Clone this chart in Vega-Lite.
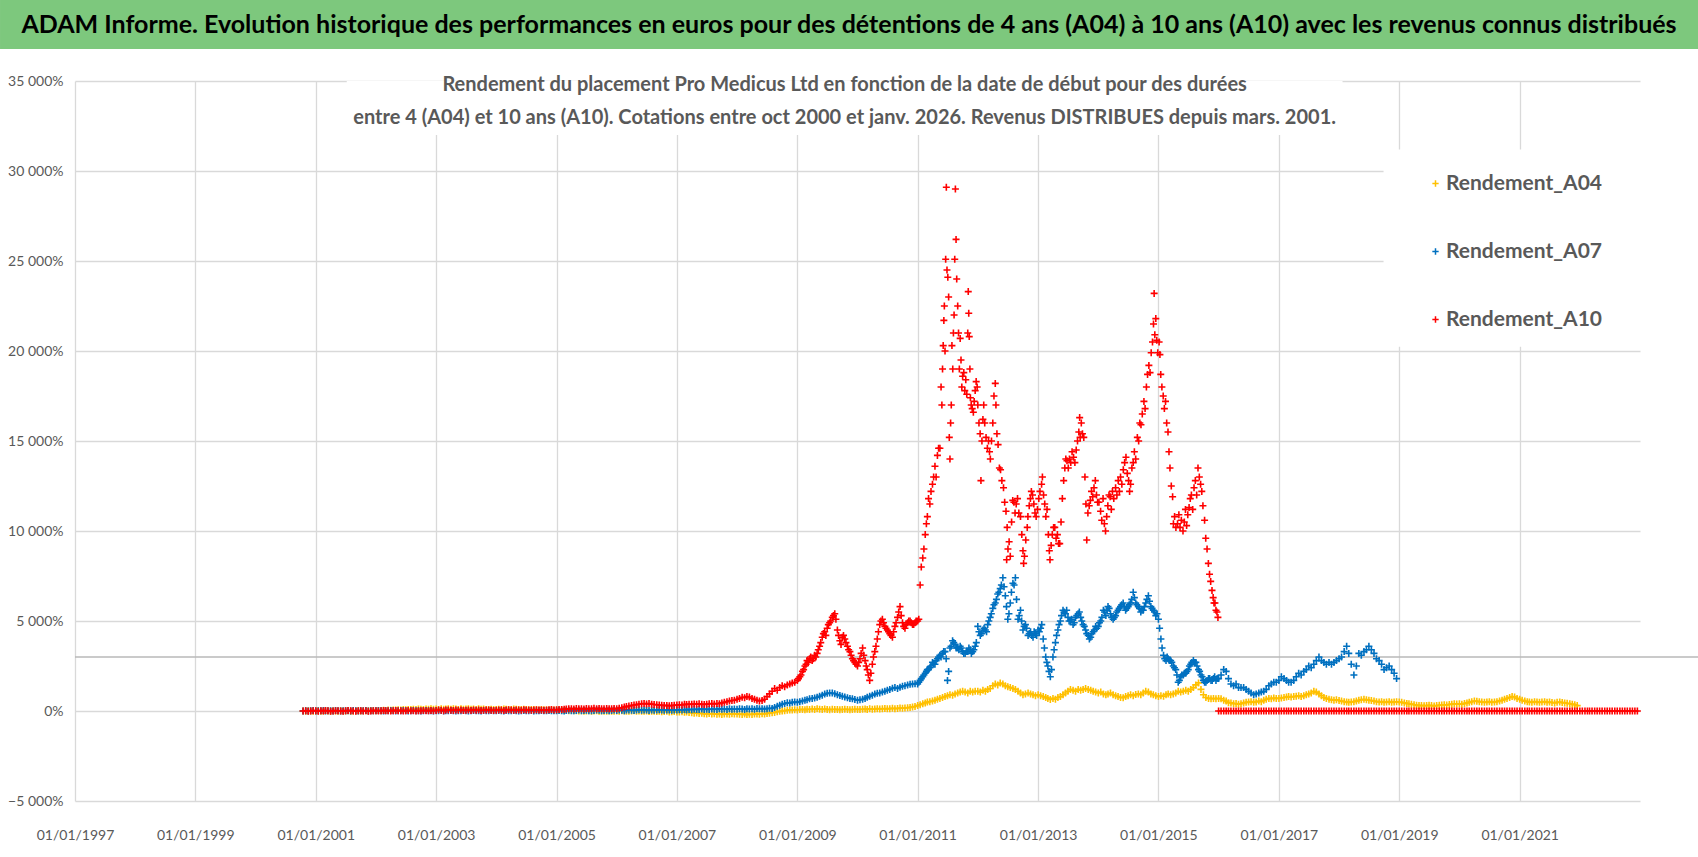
{
"$schema":"https://vega.github.io/schema/vega-lite/v6.json",
"background":"white",
"padding":0,
"spacing":25,
"align":"none",
"config":{"view":{"stroke":null},"font":"Lato","axis":{"labelFont":"Lato","labelFontSize":14,"labelColor":"#595959","gridColor":"#d9d9d9","gridWidth":1.3,"domain":false,"ticks":false,"title":null}},
"datasets":{"rows":[
{"d":"2000-10-16","a":0,"b":0,"c":0},{"d":"2000-11","a":-10,"b":20,"c":10},{"d":"2000-11-16","a":10,"b":0,"c":-10},{"d":"2000-12","a":0,"b":10,"c":0},{"d":"2000-12-16","a":-10,"b":30,"c":20},
{"d":"2001-01","a":0,"b":0,"c":10},{"d":"2001-01-16","a":10,"b":20,"c":-10},{"d":"2001-02","a":-10,"b":10,"c":20},{"d":"2001-02-16","a":0,"b":30,"c":0},{"d":"2001-03","a":10,"b":0,"c":30},{"d":"2001-03-16","a":0,"b":10,"c":10},{"d":"2001-04","a":-10,"b":20,"c":-20},{"d":"2001-04-16","a":10,"b":0,"c":0},{"d":"2001-05","a":0,"b":30,"c":20},{"d":"2001-05-16","a":-10,"b":10,"c":10},{"d":"2001-06","a":10,"b":0,"c":0},{"d":"2001-06-16","a":0,"b":20,"c":-10},{"d":"2001-07","a":0,"b":10,"c":10},{"d":"2001-07-16","a":10,"b":20,"c":30},{"d":"2001-08","a":-10,"b":0,"c":20},{"d":"2001-08-16","a":0,"b":30,"c":0},{"d":"2001-09","a":10,"b":10,"c":-10},{"d":"2001-09-16","a":20,"b":0,"c":10},{"d":"2001-10","a":0,"b":20,"c":20},{"d":"2001-10-16","a":10,"b":10,"c":0},{"d":"2001-11","a":20,"b":30,"c":10},{"d":"2001-11-16","a":10,"b":0,"c":-10},{"d":"2001-12","a":30,"b":10,"c":0},{"d":"2001-12-16","a":20,"b":20,"c":20},
{"d":"2002-01","a":20,"b":10,"c":20},{"d":"2002-01-16","a":30,"b":30,"c":0},{"d":"2002-02","a":10,"b":20,"c":10},{"d":"2002-02-16","a":40,"b":0,"c":30},{"d":"2002-03","a":30,"b":10,"c":20},{"d":"2002-03-16","a":50,"b":20,"c":10},{"d":"2002-04","a":40,"b":30,"c":0},{"d":"2002-04-16","a":60,"b":10,"c":20},{"d":"2002-05","a":50,"b":0,"c":30},{"d":"2002-05-16","a":70,"b":20,"c":10},{"d":"2002-06","a":60,"b":10,"c":20},{"d":"2002-06-16","a":80,"b":30,"c":0},{"d":"2002-07","a":70,"b":20,"c":10},{"d":"2002-07-16","a":90,"b":0,"c":30},{"d":"2002-08","a":80,"b":10,"c":20},{"d":"2002-08-16","a":100,"b":30,"c":10},{"d":"2002-09","a":90,"b":20,"c":0},{"d":"2002-09-16","a":110,"b":10,"c":20},{"d":"2002-10","a":100,"b":0,"c":10},{"d":"2002-10-16","a":90,"b":20,"c":30},{"d":"2002-11","a":110,"b":30,"c":20},{"d":"2002-11-16","a":100,"b":10,"c":10},{"d":"2002-12","a":120,"b":20,"c":30},{"d":"2002-12-16","a":100,"b":0,"c":20},
{"d":"2003-01","a":110,"b":20,"c":30},{"d":"2003-01-16","a":90,"b":10,"c":50},{"d":"2003-02","a":120,"b":30,"c":40},{"d":"2003-02-16","a":100,"b":0,"c":20},{"d":"2003-03","a":110,"b":20,"c":50},{"d":"2003-03-16","a":130,"b":10,"c":60},{"d":"2003-04","a":100,"b":30,"c":40},{"d":"2003-04-16","a":120,"b":20,"c":30},{"d":"2003-05","a":110,"b":0,"c":50},{"d":"2003-05-16","a":90,"b":10,"c":40},{"d":"2003-06","a":120,"b":20,"c":60},{"d":"2003-06-16","a":100,"b":30,"c":30},{"d":"2003-07","a":110,"b":10,"c":40},{"d":"2003-07-16","a":130,"b":0,"c":50},{"d":"2003-08","a":100,"b":20,"c":30},{"d":"2003-08-16","a":110,"b":30,"c":60},{"d":"2003-09","a":90,"b":10,"c":40},{"d":"2003-09-16","a":120,"b":20,"c":50},{"d":"2003-10","a":100,"b":0,"c":30},{"d":"2003-10-16","a":110,"b":30,"c":40},{"d":"2003-11","a":90,"b":20,"c":60},{"d":"2003-11-16","a":80,"b":10,"c":50},{"d":"2003-12","a":100,"b":30,"c":40},{"d":"2003-12-16","a":90,"b":20,"c":30},
{"d":"2004-01","a":80,"b":10,"c":40},{"d":"2004-01-16","a":100,"b":30,"c":60},{"d":"2004-02","a":90,"b":20,"c":50},{"d":"2004-02-16","a":110,"b":0,"c":30},{"d":"2004-03","a":100,"b":30,"c":60},{"d":"2004-03-16","a":80,"b":10,"c":70},{"d":"2004-04","a":90,"b":20,"c":50},{"d":"2004-04-16","a":110,"b":30,"c":40},{"d":"2004-05","a":100,"b":10,"c":60},{"d":"2004-05-16","a":90,"b":0,"c":50},{"d":"2004-06","a":80,"b":20,"c":40},{"d":"2004-06-16","a":100,"b":30,"c":70},{"d":"2004-07","a":90,"b":10,"c":50},{"d":"2004-07-16","a":70,"b":20,"c":60},{"d":"2004-08","a":80,"b":30,"c":40},{"d":"2004-08-16","a":90,"b":0,"c":50},{"d":"2004-09","a":70,"b":20,"c":70},{"d":"2004-09-16","a":60,"b":10,"c":60},{"d":"2004-10","a":80,"b":30,"c":50},{"d":"2004-10-16","a":70,"b":20,"c":40},{"d":"2004-11","a":60,"b":10,"c":60},{"d":"2004-11-16","a":50,"b":30,"c":70},{"d":"2004-12","a":70,"b":20,"c":80},{"d":"2004-12-16","a":60,"b":10,"c":60},
{"d":"2005-01","a":50,"b":10,"c":70},{"d":"2005-01-16","a":40,"b":30,"c":90},{"d":"2005-02","a":60,"b":20,"c":80},{"d":"2005-02-16","a":30,"b":0,"c":100},{"d":"2005-03","a":40,"b":30,"c":110},{"d":"2005-03-16","a":20,"b":40,"c":120},{"d":"2005-04","a":30,"b":20,"c":130},{"d":"2005-04-16","a":10,"b":10,"c":110},{"d":"2005-05","a":20,"b":30,"c":140},{"d":"2005-05-16","a":0,"b":50,"c":120},{"d":"2005-06","a":10,"b":20,"c":130},{"d":"2005-06-16","a":-10,"b":30,"c":110},{"d":"2005-07","a":0,"b":40,"c":140},{"d":"2005-07-16","a":10,"b":20,"c":120},{"d":"2005-08","a":-10,"b":10,"c":130},{"d":"2005-08-16","a":0,"b":30,"c":150},{"d":"2005-09","a":10,"b":50,"c":120},{"d":"2005-09-16","a":-10,"b":40,"c":140},{"d":"2005-10","a":0,"b":20,"c":130},{"d":"2005-10-16","a":-20,"b":30,"c":120},{"d":"2005-11","a":-10,"b":40,"c":140},{"d":"2005-11-16","a":0,"b":20,"c":130},{"d":"2005-12","a":-20,"b":30,"c":120},{"d":"2005-12-16","a":-10,"b":50,"c":140},
{"d":"2006-01","a":0,"b":30,"c":130},{"d":"2006-01-16","a":-10,"b":50,"c":150},{"d":"2006-02","a":10,"b":40,"c":180},{"d":"2006-02-16","a":0,"b":20,"c":220},{"d":"2006-03","a":-20,"b":50,"c":250},{"d":"2006-03-16","a":-10,"b":60,"c":280},{"d":"2006-04","a":0,"b":40,"c":300},{"d":"2006-04-16","a":10,"b":30,"c":330},{"d":"2006-05","a":-10,"b":50,"c":350},{"d":"2006-05-16","a":0,"b":70,"c":380},{"d":"2006-06","a":-20,"b":40,"c":400},{"d":"2006-06-16","a":-10,"b":60,"c":420},{"d":"2006-07","a":0,"b":50,"c":390},{"d":"2006-07-16","a":-30,"b":30,"c":410},{"d":"2006-08","a":-20,"b":60,"c":380},{"d":"2006-08-16","a":-10,"b":40,"c":360},{"d":"2006-09","a":-30,"b":50,"c":350},{"d":"2006-09-16","a":-20,"b":70,"c":330},{"d":"2006-10","a":-40,"b":60,"c":320},{"d":"2006-10-16","a":-30,"b":40,"c":300},{"d":"2006-11","a":-20,"b":50,"c":310},{"d":"2006-11-16","a":-50,"b":60,"c":290},{"d":"2006-12","a":-40,"b":40,"c":300},{"d":"2006-12-16","a":-30,"b":50,"c":320},
{"d":"2007-01","a":-50,"b":50,"c":330},{"d":"2007-01-16","a":-60,"b":70,"c":350},{"d":"2007-02","a":-40,"b":60,"c":340},{"d":"2007-02-16","a":-70,"b":80,"c":370},{"d":"2007-03","a":-60,"b":60,"c":360},{"d":"2007-03-16","a":-80,"b":90,"c":380},{"d":"2007-04","a":-100,"b":70,"c":370},{"d":"2007-04-16","a":-120,"b":100,"c":390},{"d":"2007-05","a":-110,"b":80,"c":380},{"d":"2007-05-16","a":-140,"b":90,"c":400},{"d":"2007-06","a":-130,"b":110,"c":370},{"d":"2007-06-16","a":-150,"b":90,"c":360},{"d":"2007-07","a":-160,"b":100,"c":380},{"d":"2007-07-16","a":-140,"b":80,"c":400},{"d":"2007-08","a":-170,"b":110,"c":410},{"d":"2007-08-16","a":-150,"b":100,"c":390},{"d":"2007-09","a":-180,"b":90,"c":420},{"d":"2007-09-16","a":-160,"b":120,"c":400},{"d":"2007-10","a":-190,"b":100,"c":450},{"d":"2007-10-16","a":-170,"b":110,"c":480},{"d":"2007-11","a":-160,"b":90,"c":520},{"d":"2007-11-16","a":-180,"b":120,"c":560},{"d":"2007-12","a":-150,"b":100,"c":580},{"d":"2007-12-16","a":-170,"b":110,"c":600},
{"d":"2008-01","a":-160,"b":100,"c":650},{"d":"2008-01-16","a":-180,"b":120,"c":700},{"d":"2008-02","a":-190,"b":110,"c":760},{"d":"2008-02-16","a":-170,"b":90,"c":740},{"d":"2008-03","a":-200,"b":130,"c":800},{"d":"2008-03-16","a":-180,"b":110,"c":780},{"d":"2008-04","a":-190,"b":120,"c":700},{"d":"2008-04-16","a":-170,"b":100,"c":650},{"d":"2008-05","a":-160,"b":140,"c":600},{"d":"2008-05-16","a":-180,"b":120,"c":560},{"d":"2008-06","a":-150,"b":130,"c":580},{"d":"2008-06-16","a":-170,"b":110,"c":650},{"d":"2008-07","a":-140,"b":130,"c":800},{"d":"2008-07-16","a":-120,"b":150,"c":950},{"d":"2008-08","a":-100,"b":140,"c":1100},{"d":"2008-08-16","a":-80,"b":200,"c":1250},{"d":"2008-09","a":-40,"b":260,"c":1150},{"d":"2008-09-16","a":-20,"b":320,"c":1300},{"d":"2008-10","a":0,"b":380,"c":1400},{"d":"2008-10-16","a":20,"b":420,"c":1350},{"d":"2008-11","a":40,"b":460,"c":1450},{"d":"2008-11-16","a":60,"b":440,"c":1500},{"d":"2008-12","a":50,"b":480,"c":1550},{"d":"2008-12-16","a":70,"b":500,"c":1600},
{"d":"2009-01","a":60,"b":480,"c":1700},{"d":"2009-01-16","a":80,"b":520,"c":1900},{"d":"2009-02","a":90,"b":560,"c":2200},{"d":"2009-02-16","a":70,"b":600,"c":2500},{"d":"2009-03","a":100,"b":620,"c":2800},{"d":"2009-03-16","a":80,"b":680,"c":2900},{"d":"2009-04","a":110,"b":700,"c":2800},{"d":"2009-04-16","a":90,"b":720,"c":3100},{"d":"2009-05","a":120,"b":760,"c":3200},{"d":"2009-05-16","a":100,"b":820,"c":3600},{"d":"2009-06","a":80,"b":880,"c":4100},{"d":"2009-06-16","a":110,"b":940,"c":4400},{"d":"2009-07","a":90,"b":980,"c":4600},{"d":"2009-07-16","a":70,"b":1000,"c":4900},{"d":"2009-08","a":100,"b":1000,"c":5200},{"d":"2009-08-16","a":80,"b":960,"c":5400},{"d":"2009-09","a":90,"b":900,"c":4500},{"d":"2009-09-16","a":70,"b":860,"c":3900},{"d":"2009-10","a":80,"b":820,"c":4100},{"d":"2009-10-16","a":100,"b":780,"c":4000},{"d":"2009-11","a":90,"b":740,"c":3600},{"d":"2009-11-16","a":70,"b":700,"c":3300},{"d":"2009-12","a":80,"b":680,"c":2900},{"d":"2009-12-16","a":100,"b":640,"c":2700},
{"d":"2010-01","a":90,"b":600,"c":2500},{"d":"2010-01-16","a":80,"b":620,"c":2900},{"d":"2010-02","a":100,"b":650,"c":3500},{"d":"2010-02-16","a":110,"b":700,"c":2800},{"d":"2010-03","a":90,"b":760,"c":2300},{"d":"2010-03-16","a":120,"b":820,"c":1700},{"d":"2010-04","a":100,"b":880,"c":2600},{"d":"2010-04-16","a":110,"b":940,"c":3300},{"d":"2010-05","a":130,"b":980,"c":4000},{"d":"2010-05-16","a":110,"b":1000,"c":4800},{"d":"2010-06","a":120,"b":1050,"c":5100},{"d":"2010-06-16","a":140,"b":1100,"c":4700},{"d":"2010-07","a":120,"b":1150,"c":4500},{"d":"2010-07-16","a":130,"b":1200,"c":4300},{"d":"2010-08","a":150,"b":1260,"c":4100},{"d":"2010-08-16","a":130,"b":1300,"c":4700},{"d":"2010-09","a":140,"b":1250,"c":5200},{"d":"2010-09-16","a":160,"b":1320,"c":5800},{"d":"2010-10","a":150,"b":1380,"c":4900},{"d":"2010-10-16","a":170,"b":1400,"c":4600},{"d":"2010-11","a":180,"b":1450,"c":4900},{"d":"2010-11-16","a":200,"b":1480,"c":5000},{"d":"2010-12","a":220,"b":1500,"c":4800},{"d":"2010-12-16","a":250,"b":1520,"c":4900},
{"d":"2011-01","a":300,"b":1500},{"d":"2011-01-16","a":350,"b":1700},{"d":"2011-02","a":400,"b":1900},{"d":"2011-02-16","a":450,"b":2100},{"d":"2011-03","a":500,"b":2300},{"d":"2011-03-16","a":520,"b":2400},{"d":"2011-04","a":550,"b":2700},{"d":"2011-04-16","a":600,"b":2600},{"d":"2011-05","a":650,"b":2900},{"d":"2011-05-16","a":700,"b":3100},{"d":"2011-06","a":750,"b":3200},{"d":"2011-06-16","a":800,"b":3300},{"d":"2011-07","a":850,"b":1700},{"d":"2011-07-16","a":900,"b":3500},{"d":"2011-08","a":880,"b":3900},{"d":"2011-08-16","a":950,"b":3700},{"d":"2011-09","a":1000,"b":3500},{"d":"2011-09-16","a":1050,"b":3600},{"d":"2011-10","a":1100,"b":3300},{"d":"2011-10-16","a":1050,"b":3200},{"d":"2011-11","a":1000,"b":3300},{"d":"2011-11-16","a":1100,"b":3400},{"d":"2011-12","a":1050,"b":3300},{"d":"2011-12-16","a":1100,"b":3600},
{"d":"2012-01","a":1100,"b":4700},{"d":"2012-01-16","a":1050,"b":4200},{"d":"2012-02","a":1150,"b":4500},{"d":"2012-02-16","a":1100,"b":4500},{"d":"2012-03","a":1200,"b":4800},{"d":"2012-03-16","a":1250,"b":5200},{"d":"2012-04","a":1400,"b":5700},{"d":"2012-04-16","a":1500,"b":6000},{"d":"2012-05","a":1450,"b":6500},{"d":"2012-05-16","a":1550,"b":6800},{"d":"2012-06","a":1500,"b":7400},{"d":"2012-06-16","a":1400,"b":6400},{"d":"2012-07","a":1350,"b":5100},{"d":"2012-07-16","a":1300,"b":6000},{"d":"2012-08","a":1250,"b":7100},{"d":"2012-08-16","a":1200,"b":7400},{"d":"2012-09","a":1100,"b":5100},{"d":"2012-09-16","a":1000,"b":5600},{"d":"2012-10","a":900,"b":4500},{"d":"2012-10-16","a":950,"b":4800},{"d":"2012-11","a":1000,"b":4200},{"d":"2012-11-16","a":950,"b":4400},{"d":"2012-12","a":900,"b":4100},{"d":"2012-12-16","a":850,"b":4300},
{"d":"2013-01","a":900,"b":4500},{"d":"2013-01-16","a":850,"b":4600},{"d":"2013-02","a":800,"b":4000},{"d":"2013-02-16","a":750,"b":3000},{"d":"2013-03","a":700,"b":2500},{"d":"2013-03-16","a":640,"b":1900},{"d":"2013-04","a":700,"b":3000},{"d":"2013-04-16","a":650,"b":3800},{"d":"2013-05","a":750,"b":4500},{"d":"2013-05-16","a":800,"b":5000},{"d":"2013-06","a":900,"b":5600},{"d":"2013-06-16","a":1000,"b":5400},{"d":"2013-07","a":1100,"b":5200},{"d":"2013-07-16","a":1200,"b":5000},{"d":"2013-08","a":1150,"b":4800},{"d":"2013-08-16","a":1100,"b":5200},{"d":"2013-09","a":1200,"b":5400},{"d":"2013-09-16","a":1150,"b":5200},{"d":"2013-10","a":1200,"b":4800},{"d":"2013-10-16","a":1250,"b":4500},{"d":"2013-11","a":1200,"b":4200},{"d":"2013-11-16","a":1150,"b":4100},{"d":"2013-12","a":1100,"b":4400},{"d":"2013-12-16","a":1050,"b":4700},
{"d":"2014-01","a":1000,"b":4700},{"d":"2014-01-16","a":1050,"b":5000},{"d":"2014-02","a":950,"b":5600},{"d":"2014-02-16","a":900,"b":5300},{"d":"2014-03","a":950,"b":5800},{"d":"2014-03-16","a":1000,"b":5400},{"d":"2014-04","a":900,"b":5100},{"d":"2014-04-16","a":850,"b":5300},{"d":"2014-05","a":800,"b":5600},{"d":"2014-05-16","a":750,"b":5800},{"d":"2014-06","a":740,"b":6000},{"d":"2014-06-16","a":800,"b":5600},{"d":"2014-07","a":850,"b":5800},{"d":"2014-07-16","a":900,"b":6000},{"d":"2014-08","a":850,"b":6600},{"d":"2014-08-16","a":920,"b":6000},{"d":"2014-09","a":950,"b":5800},{"d":"2014-09-16","a":900,"b":5500},{"d":"2014-10","a":1000,"b":5600},{"d":"2014-10-16","a":1100,"b":6000},{"d":"2014-11","a":1050,"b":6400},{"d":"2014-11-16","a":950,"b":5800},{"d":"2014-12","a":900,"b":5600},{"d":"2014-12-16","a":850,"b":5300},
{"d":"2015-01","a":800,"b":5100},{"d":"2015-01-16","a":850,"b":4000},{"d":"2015-02","a":820,"b":3100},{"d":"2015-02-16","a":900,"b":2800},{"d":"2015-03","a":950,"b":2900},{"d":"2015-03-16","a":900,"b":2800},{"d":"2015-04","a":950,"b":2500},{"d":"2015-04-16","a":1000,"b":2300},{"d":"2015-05","a":1100,"b":1600},{"d":"2015-05-16","a":1050,"b":1900},{"d":"2015-06","a":1100,"b":2000},{"d":"2015-06-16","a":1150,"b":2100},{"d":"2015-07","a":1100,"b":2300},{"d":"2015-07-16","a":1200,"b":2600},{"d":"2015-08","a":1300,"b":2800},{"d":"2015-08-16","a":1450,"b":2700},{"d":"2015-09","a":1560,"b":2300},{"d":"2015-09-16","a":1200,"b":2000},{"d":"2015-10","a":900,"b":1700},{"d":"2015-10-16","a":750,"b":1600},{"d":"2015-11","a":700,"b":1800},{"d":"2015-11-16","a":680,"b":1700},{"d":"2015-12","a":700,"b":1800},{"d":"2015-12-16","a":680,"b":1700},
{"d":"2016-01","a":700,"b":1800,"c":0},{"d":"2016-01-16","a":680,"b":2000,"c":0},{"d":"2016-02","a":600,"b":2300,"c":0},{"d":"2016-02-16","a":550,"b":2200,"c":0},{"d":"2016-03","a":460,"b":1800,"c":0},{"d":"2016-03-16","a":450,"b":1500,"c":0},{"d":"2016-04","a":400,"b":1400,"c":0},{"d":"2016-04-16","a":420,"b":1500,"c":0},{"d":"2016-05","a":380,"b":1300,"c":0},{"d":"2016-05-16","a":400,"b":1300,"c":0},{"d":"2016-06","a":450,"b":1300,"c":0},{"d":"2016-06-16","a":480,"b":1200,"c":0},{"d":"2016-07","a":500,"b":1100,"c":0},{"d":"2016-07-16","a":520,"b":1000,"c":0},{"d":"2016-08","a":480,"b":900,"c":0},{"d":"2016-08-16","a":500,"b":950,"c":0},{"d":"2016-09","a":550,"b":1000,"c":0},{"d":"2016-09-16","a":520,"b":1050,"c":0},{"d":"2016-10","a":600,"b":1100,"c":0},{"d":"2016-10-16","a":650,"b":1200,"c":0},{"d":"2016-11","a":700,"b":1400,"c":0},{"d":"2016-11-16","a":680,"b":1500,"c":0},{"d":"2016-12","a":720,"b":1600,"c":0},{"d":"2016-12-16","a":700,"b":1600,"c":0},
{"d":"2017-01","a":700,"b":1700,"c":0},{"d":"2017-01-16","a":720,"b":1900,"c":0},{"d":"2017-02","a":750,"b":1800,"c":0},{"d":"2017-02-16","a":780,"b":1700,"c":0},{"d":"2017-03","a":800,"b":1600,"c":0},{"d":"2017-03-16","a":780,"b":1600,"c":0},{"d":"2017-04","a":800,"b":1700,"c":0},{"d":"2017-04-16","a":820,"b":1900,"c":0},{"d":"2017-05","a":850,"b":2100,"c":0},{"d":"2017-05-16","a":800,"b":2000,"c":0},{"d":"2017-06","a":850,"b":2200,"c":0},{"d":"2017-06-16","a":900,"b":2300,"c":0},{"d":"2017-07","a":950,"b":2500,"c":0},{"d":"2017-07-16","a":1000,"b":2400,"c":0},{"d":"2017-08","a":1100,"b":2600,"c":0},{"d":"2017-08-16","a":1050,"b":2800,"c":0},{"d":"2017-09","a":950,"b":3000,"c":0},{"d":"2017-09-16","a":850,"b":2800,"c":0},{"d":"2017-10","a":750,"b":2700,"c":0},{"d":"2017-10-16","a":700,"b":2600,"c":0},{"d":"2017-11","a":650,"b":2700,"c":0},{"d":"2017-11-16","a":620,"b":2600,"c":0},{"d":"2017-12","a":600,"b":2700,"c":0},{"d":"2017-12-16","a":620,"b":2800,"c":0},
{"d":"2018-01","a":580,"b":2900,"c":0},{"d":"2018-01-16","a":550,"b":3000,"c":0},{"d":"2018-02","a":520,"b":3300,"c":0},{"d":"2018-02-16","a":500,"b":3600,"c":0},{"d":"2018-03","a":480,"b":3200,"c":0},{"d":"2018-03-16","a":500,"b":2600,"c":0},{"d":"2018-04","a":520,"b":2000,"c":0},{"d":"2018-04-16","a":550,"b":2500,"c":0},{"d":"2018-05","a":600,"b":3200,"c":0},{"d":"2018-05-16","a":620,"b":3100,"c":0},{"d":"2018-06","a":650,"b":3300,"c":0},{"d":"2018-06-16","a":620,"b":3400,"c":0},{"d":"2018-07","a":600,"b":3600,"c":0},{"d":"2018-07-16","a":580,"b":3400,"c":0},{"d":"2018-08","a":550,"b":3200,"c":0},{"d":"2018-08-16","a":520,"b":2900,"c":0},{"d":"2018-09","a":500,"b":2800,"c":0},{"d":"2018-09-16","a":520,"b":2600,"c":0},{"d":"2018-10","a":480,"b":2300,"c":0},{"d":"2018-10-16","a":500,"b":2400,"c":0},{"d":"2018-11","a":520,"b":2500,"c":0},{"d":"2018-11-16","a":480,"b":2300,"c":0},{"d":"2018-12","a":500,"b":2100,"c":0},{"d":"2018-12-16","a":510,"b":1800,"c":0},
{"d":"2019-01","a":500,"c":0},{"d":"2019-01-16","a":480,"c":0},{"d":"2019-02","a":450,"c":0},{"d":"2019-02-16","a":420,"c":0},{"d":"2019-03","a":400,"c":0},{"d":"2019-03-16","a":380,"c":0},{"d":"2019-04","a":350,"c":0},{"d":"2019-04-16","a":320,"c":0},{"d":"2019-05","a":300,"c":0},{"d":"2019-05-16","a":310,"c":0},{"d":"2019-06","a":290,"c":0},{"d":"2019-06-16","a":300,"c":0},{"d":"2019-07","a":320,"c":0},{"d":"2019-07-16","a":300,"c":0},{"d":"2019-08","a":280,"c":0},{"d":"2019-08-16","a":300,"c":0},{"d":"2019-09","a":320,"c":0},{"d":"2019-09-16","a":330,"c":0},{"d":"2019-10","a":350,"c":0},{"d":"2019-10-16","a":340,"c":0},{"d":"2019-11","a":360,"c":0},{"d":"2019-11-16","a":380,"c":0},{"d":"2019-12","a":400,"c":0},{"d":"2019-12-16","a":390,"c":0},
{"d":"2020-01","a":400,"c":0},{"d":"2020-01-16","a":380,"c":0},{"d":"2020-02","a":420,"c":0},{"d":"2020-02-16","a":450,"c":0},{"d":"2020-03","a":480,"c":0},{"d":"2020-03-16","a":520,"c":0},{"d":"2020-04","a":550,"c":0},{"d":"2020-04-16","a":540,"c":0},{"d":"2020-05","a":520,"c":0},{"d":"2020-05-16","a":500,"c":0},{"d":"2020-06","a":480,"c":0},{"d":"2020-06-16","a":500,"c":0},{"d":"2020-07","a":520,"c":0},{"d":"2020-07-16","a":480,"c":0},{"d":"2020-08","a":500,"c":0},{"d":"2020-08-16","a":520,"c":0},{"d":"2020-09","a":560,"c":0},{"d":"2020-09-16","a":600,"c":0},{"d":"2020-10","a":650,"c":0},{"d":"2020-10-16","a":700,"c":0},{"d":"2020-11","a":750,"c":0},{"d":"2020-11-16","a":800,"c":0},{"d":"2020-12","a":780,"c":0},{"d":"2020-12-16","a":700,"c":0},
{"d":"2021-01","a":650,"c":0},{"d":"2021-01-16","a":600,"c":0},{"d":"2021-02","a":550,"c":0},{"d":"2021-02-16","a":520,"c":0},{"d":"2021-03","a":500,"c":0},{"d":"2021-03-16","a":480,"c":0},{"d":"2021-04","a":520,"c":0},{"d":"2021-04-16","a":500,"c":0},{"d":"2021-05","a":480,"c":0},{"d":"2021-05-16","a":500,"c":0},{"d":"2021-06","a":520,"c":0},{"d":"2021-06-16","a":480,"c":0},{"d":"2021-07","a":500,"c":0},{"d":"2021-07-16","a":470,"c":0},{"d":"2021-08","a":450,"c":0},{"d":"2021-08-16","a":480,"c":0},{"d":"2021-09","a":500,"c":0},{"d":"2021-09-16","a":470,"c":0},{"d":"2021-10","a":450,"c":0},{"d":"2021-10-16","a":430,"c":0},{"d":"2021-11","a":400,"c":0},{"d":"2021-11-16","a":380,"c":0},{"d":"2021-12","a":350,"c":0},{"d":"2021-12-16","a":300,"c":0},
{"d":"2022-01","c":0},{"d":"2022-01-16","c":0},{"d":"2022-02","c":0},{"d":"2022-02-16","c":0},{"d":"2022-03","c":0},{"d":"2022-03-16","c":0},{"d":"2022-04","c":0},{"d":"2022-04-16","c":0},{"d":"2022-05","c":0},{"d":"2022-05-16","c":0},{"d":"2022-06","c":0},{"d":"2022-06-16","c":0},{"d":"2022-07","c":0},{"d":"2022-07-16","c":0},{"d":"2022-08","c":0},{"d":"2022-08-16","c":0},{"d":"2022-09","c":0},{"d":"2022-09-16","c":0},{"d":"2022-10","c":0},{"d":"2022-10-16","c":0},{"d":"2022-11","c":0},{"d":"2022-11-16","c":0},{"d":"2022-12","c":0},{"d":"2022-12-16","c":0},
{"d":"2009-01-08","c":1800},{"d":"2009-01-23","c":2000},{"d":"2009-02-08","c":2300},{"d":"2009-02-23","c":2600},{"d":"2009-03-08","c":2700},{"d":"2009-03-23","c":3000},{"d":"2009-04-08","c":2900},{"d":"2009-04-23","c":3000},{"d":"2009-05-08","c":3400},{"d":"2009-05-23","c":3800},{"d":"2009-06-08","c":4300},{"d":"2009-06-23","c":4200},{"d":"2009-07-08","c":4800},{"d":"2009-07-23","c":5000},{"d":"2009-08-08","c":5300},{"d":"2009-08-23","c":5100},{"d":"2009-09-08","c":4200},{"d":"2009-09-23","c":3700},{"d":"2009-10-08","c":4200},{"d":"2009-10-23","c":3800},{"d":"2009-11-08","c":3400},{"d":"2009-11-23","c":3100},{"d":"2009-12-08","c":2800},{"d":"2009-12-23","c":2600},
{"d":"2010-01-08","c":2700},{"d":"2010-01-23","c":3200},{"d":"2010-02-08","c":3100},{"d":"2010-02-23","c":2500},{"d":"2010-03-08","c":2000},{"d":"2010-03-23","c":2100},{"d":"2010-04-08","c":3000},{"d":"2010-04-23","c":3600},{"d":"2010-05-08","c":4400},{"d":"2010-05-23","c":5000},{"d":"2010-06-08","c":4900},{"d":"2010-06-23","c":4600},{"d":"2010-07-08","c":4400},{"d":"2010-07-23","c":4200},{"d":"2010-08-08","c":4400},{"d":"2010-08-23","c":4900},{"d":"2010-09-08","c":5500},{"d":"2010-09-23","c":5300},{"d":"2010-10-08","c":4700},{"d":"2010-10-23","c":4800},{"d":"2010-11-08","c":5000},{"d":"2010-11-23","c":4900},{"d":"2010-12-08","c":4800},{"d":"2010-12-23","c":5000},
{"d":"2011-01-08","b":1600},{"d":"2011-01-23","b":1800},{"d":"2011-02-08","b":2000},{"d":"2011-02-23","b":2200},{"d":"2011-03-08","b":2300},{"d":"2011-03-23","b":2500},{"d":"2011-04-08","b":2600},{"d":"2011-04-23","b":2800},{"d":"2011-05-08","b":3000},{"d":"2011-05-23","b":3000},{"d":"2011-06-08","b":3300},{"d":"2011-06-23","b":2900},{"d":"2011-07-08","b":2200},{"d":"2011-07-23","b":3600},{"d":"2011-08-08","b":3800},{"d":"2011-08-23","b":3500},{"d":"2011-09-08","b":3400},{"d":"2011-09-23","b":3500},{"d":"2011-10-08","b":3200},{"d":"2011-10-23","b":3300},{"d":"2011-11-08","b":3500},{"d":"2011-11-23","b":3200},{"d":"2011-12-08","b":3400},{"d":"2011-12-23","b":3800},
{"d":"2012-01-08","b":4400},{"d":"2012-01-23","b":4300},{"d":"2012-02-08","b":4600},{"d":"2012-02-23","b":4400},{"d":"2012-03-08","b":5000},{"d":"2012-03-23","b":5400},{"d":"2012-04-08","b":5900},{"d":"2012-04-23","b":6200},{"d":"2012-05-08","b":6600},{"d":"2012-05-23","b":7000},{"d":"2012-06-08","b":6900},{"d":"2012-06-23","b":5800},{"d":"2012-07-08","b":5400},{"d":"2012-07-23","b":6600},{"d":"2012-08-08","b":7000},{"d":"2012-08-23","b":6200},{"d":"2012-09-08","b":5300},{"d":"2012-09-23","b":5000},{"d":"2012-10-08","b":4700},{"d":"2012-10-23","b":4600},{"d":"2012-11-08","b":4300},{"d":"2012-11-23","b":4200},{"d":"2012-12-08","b":4400},{"d":"2012-12-23","b":4200},
{"d":"2013-01-08","b":4400},{"d":"2013-01-23","b":4800},{"d":"2013-02-08","b":3500},{"d":"2013-02-23","b":2700},{"d":"2013-03-08","b":2200},{"d":"2013-03-23","b":2300},{"d":"2013-04-08","b":3400},{"d":"2013-04-23","b":4200},{"d":"2013-05-08","b":4800},{"d":"2013-05-23","b":5300},{"d":"2013-06-08","b":5500},{"d":"2013-06-23","b":5600},{"d":"2013-07-08","b":5000},{"d":"2013-07-23","b":5100},{"d":"2013-08-08","b":4900},{"d":"2013-08-23","b":5300},{"d":"2013-09-08","b":5500},{"d":"2013-09-23","b":5000},{"d":"2013-10-08","b":4700},{"d":"2013-10-23","b":4300},{"d":"2013-11-08","b":4000},{"d":"2013-11-23","b":4300},{"d":"2013-12-08","b":4500},{"d":"2013-12-23","b":4600},
{"d":"2014-01-08","b":4900},{"d":"2014-01-23","b":5200},{"d":"2014-02-08","b":5500},{"d":"2014-02-23","b":5600},{"d":"2014-03-08","b":5700},{"d":"2014-03-23","b":5200},{"d":"2014-04-08","b":5200},{"d":"2014-04-23","b":5500},{"d":"2014-05-08","b":5700},{"d":"2014-05-23","b":5900},{"d":"2014-06-08","b":5800},{"d":"2014-06-23","b":5700},{"d":"2014-07-08","b":5900},{"d":"2014-07-23","b":6200},{"d":"2014-08-08","b":6300},{"d":"2014-08-23","b":5900},{"d":"2014-09-08","b":5700},{"d":"2014-09-23","b":5600},{"d":"2014-10-08","b":5800},{"d":"2014-10-23","b":6200},{"d":"2014-11-08","b":6100},{"d":"2014-11-23","b":5700},{"d":"2014-12-08","b":5500},{"d":"2014-12-23","b":5400},
{"d":"2015-01-08","b":4600},{"d":"2015-01-23","b":3500},{"d":"2015-02-08","b":2900},{"d":"2015-02-23","b":3000},{"d":"2015-03-08","b":2800},{"d":"2015-03-23","b":2700},{"d":"2015-04-08","b":2400},{"d":"2015-04-23","b":2000},{"d":"2015-05-08","b":1700},{"d":"2015-05-23","b":2000},{"d":"2015-06-08","b":2100},{"d":"2015-06-23","b":2200},{"d":"2015-07-08","b":2500},{"d":"2015-07-23","b":2700},{"d":"2015-08-08","b":2700},{"d":"2015-08-23","b":2500},{"d":"2015-09-08","b":2200},{"d":"2015-09-23","b":1900},{"d":"2015-10-08","b":1600},{"d":"2015-10-23","b":1700},{"d":"2015-11-08","b":1800},{"d":"2015-11-23","b":1700},{"d":"2015-12-08","b":1900},{"d":"2015-12-23","b":1800},
{"d":"2011-01-01","c":5000},{"d":"2011-01-08","c":5100},{"d":"2011-01-16","c":7000},{"d":"2011-01-23","c":8000},{"d":"2011-02-01","c":8500},{"d":"2011-02-08","c":9000},{"d":"2011-02-16","c":9800},{"d":"2011-02-23","c":10400},{"d":"2011-03-01","c":10800},{"d":"2011-03-08","c":11800},{"d":"2011-03-16","c":11500},{"d":"2011-03-23","c":12200},{"d":"2011-04-01","c":12600},{"d":"2011-04-08","c":13000},{"d":"2011-04-16","c":13600},{"d":"2011-04-23","c":13000},{"d":"2011-05-01","c":14200},{"d":"2011-05-08","c":14600},{"d":"2011-05-16","c":14600},{"d":"2011-05-23","c":18000},{"d":"2011-05-28","c":17000},{"d":"2011-06-01","c":19000},{"d":"2011-06-05","c":20300},{"d":"2011-06-09","c":21700},{"d":"2011-06-12","c":22500},{"d":"2011-06-16","c":20000},{"d":"2011-06-20","c":25100},{"d":"2011-06-24","c":29100},{"d":"2011-06-28","c":24500},{"d":"2011-07-03","c":24100},{"d":"2011-07-08","c":23000},{"d":"2011-07-12","c":15200},{"d":"2011-07-16","c":14000},{"d":"2011-07-20","c":16000},{"d":"2011-07-24","c":17000},{"d":"2011-07-28","c":20300},{"d":"2011-08-02","c":19000},{"d":"2011-08-06","c":21000},{"d":"2011-08-10","c":22000},{"d":"2011-08-14","c":25100},{"d":"2011-08-18","c":29000},{"d":"2011-08-22","c":26200},{"d":"2011-08-26","c":24000},{"d":"2011-09-01","c":22500},{"d":"2011-09-06","c":21000},{"d":"2011-09-11","c":19000},{"d":"2011-09-16","c":20700},{"d":"2011-09-21","c":19500},{"d":"2011-09-26","c":18000},{"d":"2011-10-01","c":18600},{"d":"2011-10-08","c":18800},{"d":"2011-10-14","c":17800},{"d":"2011-10-20","c":18400},{"d":"2011-10-26","c":17600},{"d":"2011-11-01","c":21000},{"d":"2011-11-04","c":23300},{"d":"2011-11-07","c":22100},{"d":"2011-11-10","c":20800},{"d":"2011-11-14","c":19000},{"d":"2011-11-17","c":17400},{"d":"2011-11-22","c":17000},{"d":"2011-11-28","c":16800},{"d":"2011-12-05","c":16600},{"d":"2011-12-10","c":17200},{"d":"2011-12-16","c":17800},{"d":"2011-12-22","c":18300},{"d":"2011-12-28","c":18000},
{"d":"2012-01-01","c":17000},{"d":"2012-01-08","c":16000},{"d":"2012-01-15","c":15400},{"d":"2012-01-20","c":12800},{"d":"2012-01-26","c":15000},{"d":"2012-02-01","c":16200},{"d":"2012-02-06","c":17000},{"d":"2012-02-12","c":16000},{"d":"2012-02-20","c":15200},{"d":"2012-02-28","c":14600},{"d":"2012-03-06","c":15000},{"d":"2012-03-12","c":14400},{"d":"2012-03-17","c":14000},{"d":"2012-03-24","c":15000},{"d":"2012-04-01","c":16000},{"d":"2012-04-08","c":17500},{"d":"2012-04-16","c":18200},{"d":"2012-04-20","c":17000},{"d":"2012-04-26","c":15400},{"d":"2012-05-03","c":14800},{"d":"2012-05-11","c":13500},{"d":"2012-05-18","c":13400},{"d":"2012-05-26","c":12800},{"d":"2012-06-05","c":12400},{"d":"2012-06-12","c":11600},{"d":"2012-06-20","c":11100},{"d":"2012-06-24","c":8400},{"d":"2012-06-27","c":10200},{"d":"2012-07-02","c":9000},{"d":"2012-07-09","c":9400},{"d":"2012-07-16","c":8600},{"d":"2012-07-24","c":10500},{"d":"2012-07-31","c":11700},{"d":"2012-08-07","c":11600},{"d":"2012-08-14","c":11000},{"d":"2012-08-21","c":11500},{"d":"2012-08-29","c":11800},{"d":"2012-09-06","c":11000},{"d":"2012-09-16","c":10800},{"d":"2012-09-24","c":9800},{"d":"2012-10-01","c":8900},{"d":"2012-10-05","c":8200},{"d":"2012-10-10","c":8600},{"d":"2012-10-18","c":9500},{"d":"2012-10-27","c":10200},{"d":"2012-10-31","c":10800},{"d":"2012-11-08","c":11400},{"d":"2012-11-15","c":11800},{"d":"2012-11-21","c":12200},{"d":"2012-11-28","c":12000},{"d":"2012-12-06","c":11500},{"d":"2012-12-13","c":11000},{"d":"2012-12-20","c":10800},{"d":"2012-12-28","c":11200},
{"d":"2013-01-05","c":11800},{"d":"2013-01-12","c":12200},{"d":"2013-01-22","c":12600},{"d":"2013-01-27","c":13000},{"d":"2013-02-03","c":12000},{"d":"2013-02-10","c":11500},{"d":"2013-02-17","c":10800},{"d":"2013-02-24","c":11200},{"d":"2013-03-04","c":9800},{"d":"2013-03-10","c":8900},{"d":"2013-03-14","c":8400},{"d":"2013-03-21","c":9200},{"d":"2013-03-28","c":9800},{"d":"2013-04-05","c":10200},{"d":"2013-04-12","c":10200},{"d":"2013-04-20","c":9600},{"d":"2013-04-28","c":9800},{"d":"2013-05-05","c":9300},{"d":"2013-05-12","c":9300},{"d":"2013-05-20","c":10500},{"d":"2013-05-28","c":11800},{"d":"2013-06-05","c":12800},{"d":"2013-06-12","c":13500},{"d":"2013-06-18","c":14000},{"d":"2013-06-25","c":13900},{"d":"2013-07-03","c":13500},{"d":"2013-07-10","c":14000},{"d":"2013-07-18","c":13800},{"d":"2013-07-26","c":14400},{"d":"2013-08-04","c":14100},{"d":"2013-08-12","c":13800},{"d":"2013-08-20","c":14500},{"d":"2013-08-28","c":15000},{"d":"2013-09-05","c":15500},{"d":"2013-09-10","c":16300},{"d":"2013-09-13","c":15200},{"d":"2013-09-20","c":16000},{"d":"2013-09-27","c":15400},{"d":"2013-10-05","c":15200},{"d":"2013-10-12","c":13000},{"d":"2013-10-18","c":11500},{"d":"2013-10-23","c":9500},{"d":"2013-10-30","c":11000},{"d":"2013-11-07","c":11400},{"d":"2013-11-14","c":11700},{"d":"2013-11-21","c":12200},{"d":"2013-11-28","c":11900},{"d":"2013-12-06","c":12400},{"d":"2013-12-14","c":12800},{"d":"2013-12-21","c":12000},{"d":"2013-12-28","c":11600},
{"d":"2014-01-05","c":11600},{"d":"2014-01-15","c":11100},{"d":"2014-01-22","c":10600},{"d":"2014-01-30","c":11800},{"d":"2014-02-07","c":10400},{"d":"2014-02-14","c":10000},{"d":"2014-02-21","c":10800},{"d":"2014-02-28","c":11400},{"d":"2014-03-07","c":12000},{"d":"2014-03-14","c":11900},{"d":"2014-03-21","c":11200},{"d":"2014-03-28","c":12200},{"d":"2014-04-05","c":11800},{"d":"2014-04-16","c":12400},{"d":"2014-04-24","c":12000},{"d":"2014-05-02","c":12800},{"d":"2014-05-09","c":12200},{"d":"2014-05-16","c":13000},{"d":"2014-05-24","c":12600},{"d":"2014-06-02","c":13400},{"d":"2014-06-10","c":13800},{"d":"2014-06-18","c":14100},{"d":"2014-06-26","c":13200},{"d":"2014-07-04","c":12800},{"d":"2014-07-10","c":12200},{"d":"2014-07-16","c":12600},{"d":"2014-07-24","c":13500},{"d":"2014-08-01","c":13800},{"d":"2014-08-08","c":14400},{"d":"2014-08-16","c":14000},{"d":"2014-08-26","c":15200},{"d":"2014-09-03","c":15000},{"d":"2014-09-10","c":16000},{"d":"2014-09-17","c":15900},{"d":"2014-09-25","c":16500},{"d":"2014-10-05","c":17200},{"d":"2014-10-12","c":16800},{"d":"2014-10-20","c":18000},{"d":"2014-10-27","c":18700},{"d":"2014-11-04","c":19200},{"d":"2014-11-11","c":18800},{"d":"2014-11-18","c":19900},{"d":"2014-11-26","c":20500},{"d":"2014-12-02","c":21500},{"d":"2014-12-06","c":23200},{"d":"2014-12-10","c":20900},{"d":"2014-12-16","c":21800},{"d":"2014-12-22","c":20600},{"d":"2014-12-28","c":19900},
{"d":"2015-01-05","c":20500},{"d":"2015-01-10","c":19800},{"d":"2015-01-15","c":18700},{"d":"2015-01-22","c":18000},{"d":"2015-01-30","c":17500},{"d":"2015-02-06","c":16800},{"d":"2015-02-13","c":17200},{"d":"2015-02-20","c":16000},{"d":"2015-02-28","c":15500},{"d":"2015-03-06","c":14400},{"d":"2015-03-12","c":13500},{"d":"2015-03-20","c":12500},{"d":"2015-03-28","c":11900},{"d":"2015-04-02","c":10400},{"d":"2015-04-09","c":10800},{"d":"2015-04-17","c":10200},{"d":"2015-04-27","c":10400},{"d":"2015-05-05","c":10900},{"d":"2015-05-12","c":10200},{"d":"2015-05-20","c":10600},{"d":"2015-05-30","c":10000},{"d":"2015-06-07","c":10500},{"d":"2015-06-14","c":11200},{"d":"2015-06-21","c":10300},{"d":"2015-06-28","c":10900},{"d":"2015-07-06","c":11300},{"d":"2015-07-13","c":11800},{"d":"2015-07-20","c":12000},{"d":"2015-07-28","c":11200},{"d":"2015-08-05","c":12400},{"d":"2015-08-13","c":12800},{"d":"2015-08-21","c":12000},{"d":"2015-08-29","c":13500},{"d":"2015-09-06","c":13000},{"d":"2015-09-14","c":12600},{"d":"2015-09-21","c":12200},{"d":"2015-09-28","c":11400},{"d":"2015-10-08","c":10600},{"d":"2015-10-15","c":9600},{"d":"2015-10-23","c":9000},{"d":"2015-10-31","c":8200},{"d":"2015-11-07","c":7600},{"d":"2015-11-14","c":7200},{"d":"2015-11-22","c":6700},{"d":"2015-11-29","c":6300},{"d":"2015-12-04","c":6000},{"d":"2015-12-10","c":6000},{"d":"2015-12-16","c":5600},{"d":"2015-12-22","c":5500},{"d":"2015-12-28","c":5200}
]},
"vconcat":[
{"width":1623,"height":49,
 "layer":[
  {"data":{"values":[{"k":"banner"}]},"mark":{"type":"rect","fill":"#7DC87D"},
   "encoding":{"x":{"datum":-0.0462,"type":"quantitative","scale":{"domain":[0,1],"nice":false,"zero":false},"axis":null},"x2":{"datum":1},
     "y":{"datum":0,"type":"quantitative","scale":{"domain":[0,1],"nice":false},"axis":null},"y2":{"datum":1}}},
  {"data":{"values":[{"t":"ADAM Informe. Evolution historique des performances en euros pour des détentions de 4 ans (A04) à 10 ans (A10) avec les revenus connus distribués"}]},
   "mark":{"type":"text","font":"Lato","fontSize":25,"fontWeight":"bold","color":"#000000","align":"center","baseline":"middle"},
   "encoding":{"text":{"field":"t","type":"nominal"},
     "x":{"datum":0.4769,"type":"quantitative"},
     "y":{"datum":0.5,"type":"quantitative"}}}
 ]},
{"width":1565,"height":720,
 "layer":[
  {"data":{"values":[{"k":"box"}]},"mark":{"type":"rect","fill":"white"},
   "encoding":{"x":{"datum":{"year":2001,"month":7,"date":8},"type":"temporal"},"x2":{"datum":{"year":2018,"month":1,"date":22}},"y":{"datum":32000,"type":"quantitative"},"y2":{"datum":35000}}},
  {"data":{"values":[{"k":"box"}]},"mark":{"type":"rect","fill":"white"},
   "encoding":{"x":{"datum":{"year":2018,"month":9,"date":28},"type":"temporal"},"x2":{"datum":{"year":2023,"month":7,"date":20}},"y":{"datum":20240,"type":"quantitative"},"y2":{"datum":31200}}},
  {"data":{"values":[{"k":"line"}]},"mark":{"type":"rule","color":"#b8b8b8","strokeWidth":1.5},
   "encoding":{"x":{"datum":{"year":1997,"month":1,"date":1},"type":"temporal"},"x2":{"datum":{"year":2024,"month":1,"date":1}},"y":{"datum":3000,"type":"quantitative"}}},
  {"data":{"name":"rows","format":{"parse":{"d":"date"}}},
   "transform":[{"fold":["a","b","c"],"as":["k","v"]},{"filter":"isValid(datum.v)"}],
   "mark":{"type":"point","shape":"M-1,0L1,0M0,-1L0,1","filled":false,"strokeWidth":1.6,"size":49,"opacity":1},
   "encoding":{
    "x":{"field":"d","type":"temporal","scale":{"domain":[{"year":1997,"month":1,"date":1},{"year":2023,"month":1,"date":1}],"nice":false},
      "axis":{"values":[{"year":1997,"month":1,"date":1},{"year":1999,"month":1,"date":1},{"year":2001,"month":1,"date":1},{"year":2003,"month":1,"date":1},{"year":2005,"month":1,"date":1},{"year":2007,"month":1,"date":1},{"year":2009,"month":1,"date":1},{"year":2011,"month":1,"date":1},{"year":2013,"month":1,"date":1},{"year":2015,"month":1,"date":1},{"year":2017,"month":1,"date":1},{"year":2019,"month":1,"date":1},{"year":2021,"month":1,"date":1}],"format":"%d/%m/%Y","labelPadding":27,"grid":true,"labelAlign":"center"}},
    "y":{"field":"v","type":"quantitative","scale":{"domain":[-5000,35000],"nice":false,"zero":false},
      "axis":{"values":[-5000,0,5000,10000,15000,20000,25000,30000,35000],"labelExpr":"replace(format(datum.value, ','), ',', ' ') + '%'","labelPadding":12,"minExtent":75,"maxExtent":75,"grid":true}},
    "color":{"field":"k","type":"nominal","scale":{"domain":["a","b","c"],"range":["#FFC000","#0070C0","#FF0000"]},
      "legend":{"orient":"none","legendX":1350,"legendY":92,"title":null,"padding":0,"labelFont":"Lato","labelFontSize":21,"labelFontWeight":"bold","labelColor":"#595959","symbolType":"M-1,0L1,0M0,-1L0,1","symbolSize":40,"symbolStrokeWidth":1.5,"symbolFillColor":"transparent","rowPadding":46,"labelOffset":0,
        "labelExpr":"datum.label == 'a' ? 'Rendement_A04' : datum.label == 'b' ? 'Rendement_A07' : 'Rendement_A10'"}},
    "order":{"field":"k","sort":"ascending"}}},
  {"data":{"values":[{"t":["Rendement du placement Pro Medicus Ltd en fonction de la date de début pour des durées","entre 4 (A04) et 10 ans (A10).  Cotations entre oct 2000 et janv. 2026. Revenus DISTRIBUES depuis mars. 2001."]}]},
   "mark":{"type":"text","font":"Lato","fontSize":20,"fontWeight":"bold","color":"#595959","align":"center","baseline":"middle","lineHeight":33},
   "encoding":{"text":{"field":"t"},"x":{"datum":{"year":2009,"month":10,"date":15},"type":"temporal"},"y":{"datum":34780,"type":"quantitative"}}}
 ]}
],
"resolve":{"scale":{"x":"independent","y":"independent"},"legend":{"color":"independent"}}
}
